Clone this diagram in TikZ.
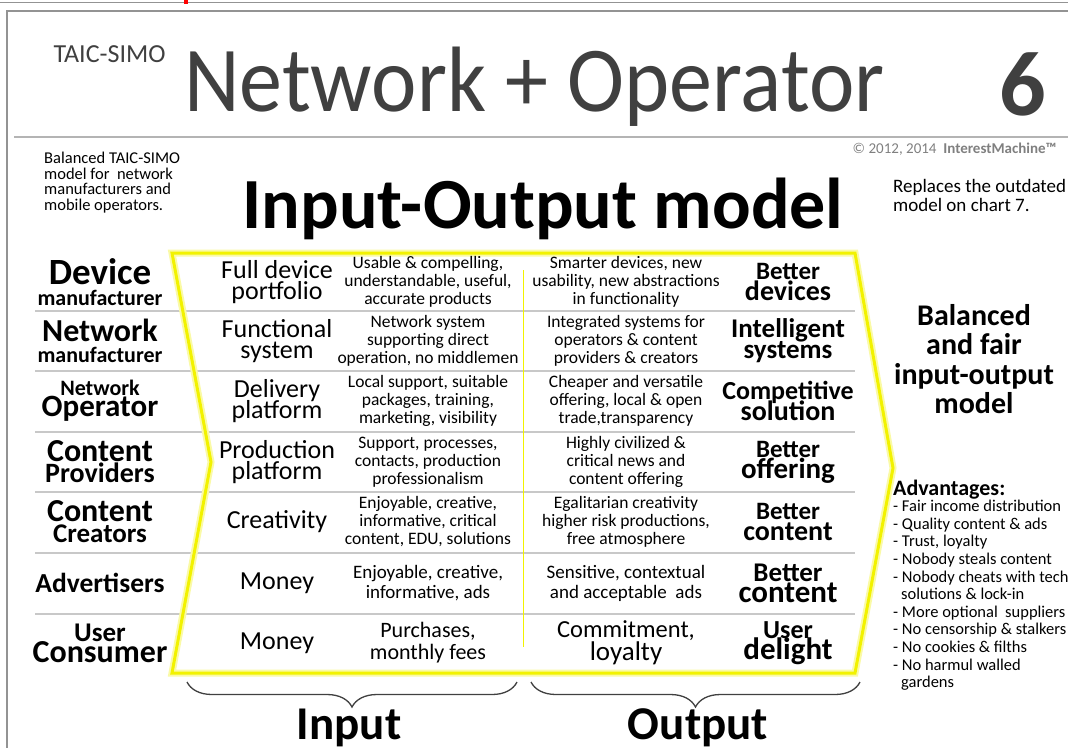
\documentclass[tikz,border=0pt]{standalone}
\usepackage{fontspec}
\setmainfont{Carlito}
\usetikzlibrary{decorations.pathreplacing}
\definecolor{inkgray}{HTML}{404040}
\definecolor{linegray}{HTML}{C8C8C8}
\definecolor{framegray}{HTML}{939393}
\definecolor{hiyellow}{HTML}{F2F200}
\newcommand{\fsz}[2]{\fontsize{#1}{#2}\selectfont}
\newcommand{\tightlines}{\lineskiplimit=-100pt\relax}
\tikzset{
  who/.style={align=center, inner sep=0pt, font=\bfseries\tightlines\fsz{30}{21}},
  what/.style={align=center, inner sep=0pt, font=\tightlines\fsz{26}{21}},
  says/.style={align=center, inner sep=0pt, font=\tightlines\fsz{17.5}{18}},
  gets/.style={align=center, inner sep=0pt, font=\bfseries\tightlines\fsz{27}{21}},
  rowline/.style={linegray, line width=1.5pt},
  hub/.style={hiyellow, line width=3pt, line join=miter},
  curly/.style={decorate, decoration={brace, amplitude=25pt}, inkgray, line width=1.3pt}
}

\begin{document}
\begin{tikzpicture}[x=1pt, y=-1pt]
	\useasboundingbox (0,0) rectangle (1068,748);
	\clip (0,0) rectangle (1068,748);
	\fill[white] (0,0) rectangle (1068,748);
	\draw[framegray, line width=1.5pt] (0,2.5) -- (1068,2.5);
	\fill[red] (184,0) rectangle (188,4);
	\draw[framegray, line width=2pt] (1068,11) -- (7,11) -- (7,748);
	\draw[framegray!70, line width=1.5pt] (14,137) -- (1068,137);

	\node[anchor=base west, font=\fsz{26}{26}, text=inkgray] (brand) at (50,62) {TAIC-SIMO};
	\node[anchor=base west, inner sep=0pt, font=\fsz{86}{86}, text=inkgray] (title) at (184,111) {\scalebox{1}[1.08]{Network + Operator}};
	\node[anchor=base east, font=\bfseries\fsz{92}{92}, text=inkgray] (chart) at (1050,115) {6};
	\node[anchor=base east, font=\fsz{15}{15}, text=gray] (copy) at (1060,153) {© 2012, 2014\ \ \textbf{InterestMachine™}};
	\node[anchor=north west, align=left, inner sep=0pt, font=\tightlines\fsz{16.5}{15.5}] (note) at (44,152) {Balanced TAIC-SIMO\\model for\ \ network\\manufacturers and\\mobile operators.};
	\node[anchor=base, font=\bfseries\fsz{72}{72}] (head) at (543,228) {Input-Output model};
	\node[anchor=north west, align=left, inner sep=0pt, font=\tightlines\fsz{19}{19}] (repl) at (893,179) {Replaces the outdated\\model on chart 7.};

	\foreach \y in {311,371,432,492,553,614}
		\draw[rowline] (35,\y) -- (855,\y);
	\draw[hiyellow!35, line width=7pt, line join=miter] (172,253) -- (855,253) -- (893,468) -- (855,673) -- (172,673) -- (211,462) -- cycle;
	\draw[hub] (172,253) -- (855,253) -- (893,468) -- (855,673) -- (172,673) -- (211,462) -- cycle;
	\draw[hiyellow, line width=1pt] (523,270) -- (523,647);

	\node[who] (dev) at (100,282) {{\fsz{37}{21}Device}\\{\fsz{22}{21}manufacturer}};
	\node[who] (netm) at (100,341) {{\fsz{32}{21}Network}\\{\fsz{22}{21}manufacturer}};
	\node[who] (netop) at (100,401) {{\fsz{22}{21}Network}\\{\fsz{31}{21}Operator}};
	\node[who] (prov) at (100,462) {{\fsz{32}{21}Content}\\{\fsz{28}{21}Providers}};
	\node[who] (crea) at (100,522) {{\fsz{32}{21}Content}\\{\fsz{27}{21}Creators}};
	\node[who] (ads) at (100,583) {{\fsz{27.5}{21}Advertisers}};
	\node[who] (user) at (100,643) {{\fsz{27}{21}User}\\{\fsz{32}{21}Consumer}};

	\node[what] (in1) at (277,282) {Full device\\portfolio};
	\node[what] (in2) at (277,341) {Functional\\system};
	\node[what] (in3) at (277,401) {Delivery\\platform};
	\node[what] (in4) at (277,462) {Production\\platform};
	\node[what] (in5) at (277,522) {Creativity};
	\node[what] (in6) at (277,583) {Money};
	\node[what] (in7) at (277,643) {Money};

	\node[says] (give1) at (428,282) {Usable \& compelling,\\understandable, useful,\\accurate products};
	\node[says] (give2) at (428,341) {Network system\\supporting direct\\operation, no middlemen};
	\node[says] (give3) at (428,401) {Local support, suitable\\packages, training,\\marketing, visibility};
	\node[says] (give4) at (428,462) {Support, processes,\\contacts, production\\professionalism};
	\node[says] (give5) at (428,522) {Enjoyable, creative,\\informative, critical\\content, EDU, solutions};
	\node[says, font=\fsz{19}{20}] (give6) at (428,583) {Enjoyable, creative,\\informative, ads};
	\node[says, font=\fsz{22}{22}] (give7) at (428,643) {Purchases,\\monthly fees};

	\node[says] (take1) at (626,282) {Smarter devices, new\\usability, new abstractions\\in functionality};
	\node[says] (take2) at (626,341) {Integrated systems for\\operators \& content\\providers \& creators};
	\node[says] (take3) at (626,401) {Cheaper and versatile\\offering, local \& open\\trade,transparency};
	\node[says] (take4) at (626,462) {Highly civilized \&\\critical news and\\content offering};
	\node[says] (take5) at (626,522) {Egalitarian creativity\\higher risk productions,\\free atmosphere};
	\node[says, font=\fsz{19}{20}] (take6) at (626,583) {Sensitive, contextual\\and acceptable\ \ ads};
	\node[says, font=\fsz{24.5}{23}] (take7) at (626,643) {Commitment,\\{\fsz{27}{23}loyalty}};

	\node[gets] (out1) at (788,282) {{\fsz{25}{21}Better}\\{\fsz{28}{21}devices}};
	\node[gets] (out2) at (788,341) {Intelligent\\systems};
	\node[gets] (out3) at (788,401) {{\fsz{26}{21}Competitive}\\{\fsz{28}{21}solution}};
	\node[gets] (out4) at (788,462) {{\fsz{25}{21}Better}\\{\fsz{29}{21}offering}};
	\node[gets] (out5) at (788,522) {{\fsz{25}{21}Better}\\{\fsz{28}{21}content}};
	\node[gets] (out6) at (788,583) {{\fsz{27}{21}Better}\\{\fsz{31}{21}content}};
	\node[gets] (out7) at (788,643) {{\fsz{26}{21}User}\\{\fsz{31}{21}delight}};

	\node[align=center, inner sep=0pt, font=\bfseries\tightlines\fsz{30}{29.5}] (verdict) at (974,359) {Balanced\\and fair\\input-output\\model};
	\node[anchor=base west, inner sep=0pt, font=\bfseries\fsz{22}{22}] (adv) at (893,495) {Advantages:};
	\node[anchor=north west, align=left, inner sep=0pt, font=\tightlines\fsz{16.5}{17.6}] (pros) at (893,500) {- Fair income distribution\\- Quality content \& ads\\- Trust, loyalty\\- Nobody steals content\\- Nobody cheats with tech\\\hspace*{8pt}solutions \& lock-in\\- More optional\ \ suppliers\\- No censorship \& stalkers\\- No cookies \& filths\\- No harmul walled\\\hspace*{8pt}gardens};

	\coordinate (inL) at (187,682);
	\coordinate (inR) at (517,682);
	\coordinate (outL) at (531,682);
	\coordinate (outR) at (860,682);
	\draw[curly] (inR) -- (inL);
	\draw[curly] (outR) -- (outL);
	\node[anchor=base, font=\bfseries\fsz{47}{47}] (inlab) at (349,739) {Input};
	\node[anchor=base, font=\bfseries\fsz{47}{47}] (outlab) at (698,739) {Output};
\end{tikzpicture}
\end{document}
